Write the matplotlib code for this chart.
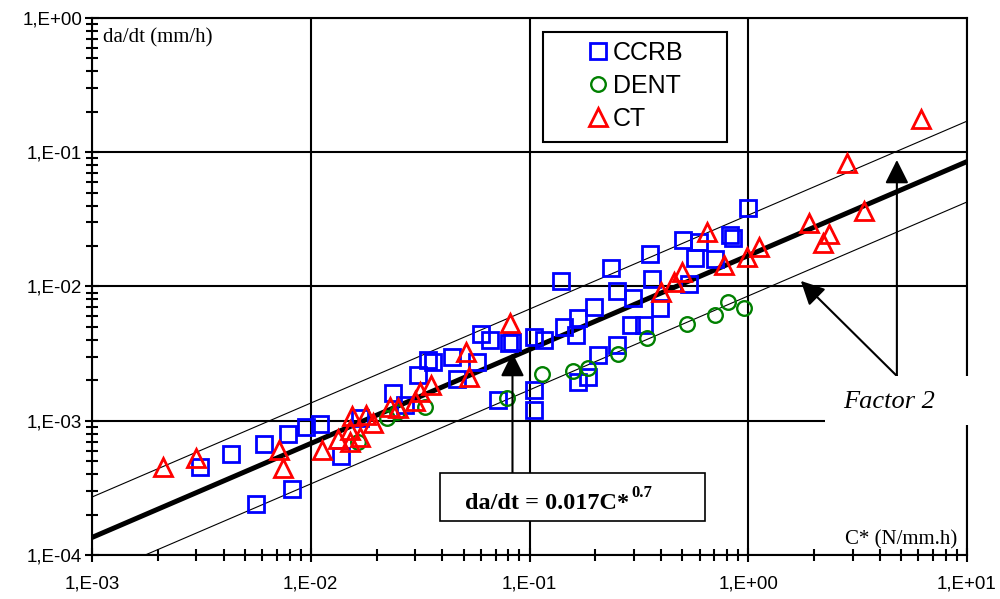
import numpy as np
import matplotlib
matplotlib.use('Agg')
import matplotlib.pyplot as plt
from matplotlib.patches import Rectangle
from matplotlib.ticker import LogLocator, FuncFormatter, NullFormatter

# C* (N/mm.h) and da/dt (mm/h)
ccrb_c = [0.00312, 0.00432, 0.00563, 0.00612, 0.00823, 0.00789, 0.00953, 0.01105,
          0.0138, 0.01684, 0.02385, 0.0271, 0.0310, 0.0345, 0.0364, 0.0444, 0.0468,
          0.0578, 0.0602, 0.0663, 0.0721, 0.0810, 0.0836, 0.1054, 0.1159, 0.1054,
          0.1054, 0.1387, 0.1431, 0.1658, 0.1623, 0.1963, 0.2048, 0.1658, 0.1842,
          0.2348, 0.2502, 0.2961, 0.290, 0.3324, 0.2502, 0.3618, 0.354, 0.3936,
          0.5013, 0.534, 0.569, 0.5936, 0.7026, 0.823, 0.849, 0.995]
ccrb_dadt = [4.52e-4, 5.65e-4, 2.40e-4, 6.71e-4, 3.10e-4, 7.96e-4, 8.98e-4, 9.46e-4,
             5.46e-4, 1.05e-3, 1.61e-3, 1.31e-3, 2.19e-3, 2.84e-3, 2.74e-3, 2.99e-3, 2.05e-3,
             2.74e-3, 4.43e-3, 4.0e-3, 1.43e-3, 3.79e-3, 3.86e-3, 4.21e-3, 4.0e-3, 1.69e-3,
             1.20e-3, 1.10e-2, 4.99e-3, 5.83e-3, 4.35e-3, 7.04e-3, 3.09e-3, 1.94e-3, 2.12e-3,
             1.37e-2, 9.26e-3, 8.21e-3, 5.17e-3, 5.17e-3, 3.67e-3, 1.14e-2, 1.75e-2, 6.92e-3,
             2.22e-2, 1.04e-2, 1.63e-2, 2.15e-2, 1.60e-2, 2.42e-2, 2.30e-2, 3.84e-2]

dent_c = [0.0165, 0.02239, 0.02488, 0.0334, 0.0793, 0.1135, 0.1573, 0.1842,
          0.2528, 0.3431, 0.5231, 0.7026, 0.806, 0.954]
dent_dadt = [6.95e-4, 1.05e-3, 1.16e-3, 1.27e-3, 1.48e-3, 2.23e-3, 2.35e-3, 2.47e-3,
             3.14e-3, 4.13e-3, 5.26e-3, 6.13e-3, 7.66e-3, 6.92e-3]

ct_c = [0.002113, 0.00299, 0.00717, 0.00748, 0.01128, 0.01336, 0.01516, 0.01516,
        0.01549, 0.01795, 0.01932, 0.01684, 0.02311, 0.02515, 0.03008, 0.0317, 0.0356,
        0.0515, 0.0531, 0.0818, 0.3977, 0.456, 0.4962, 0.6458, 0.7725, 0.984, 1.117,
        1.891, 2.193, 2.336, 3.378, 2.824, 6.16]
ct_dadt = [4.52e-4, 5.28e-4, 6.05e-4, 4.45e-4, 6.05e-4, 7.31e-4, 6.95e-4, 8.53e-4,
           1.085e-3, 1.104e-3, 9.62e-4, 7.57e-4, 1.266e-3, 1.245e-3, 1.404e-3, 1.638e-3, 1.846e-3,
           3.25e-3, 2.12e-3, 5.35e-3, 9.10e-3, 1.08e-2, 1.28e-2, 2.55e-2, 1.45e-2, 1.66e-2, 1.97e-2,
           2.97e-2, 2.11e-2, 2.46e-2, 3.65e-2, 8.32e-2, 0.1769]

# da/dt = 0.017 C*^0.7, with a factor 2 band
fit_coef = 0.017
fit_exp = 0.7
factor = 2.0

fig = plt.figure(figsize=(10, 5.99), dpi=100)
ax = fig.add_axes([0.092, 0.0735, 0.875, 0.8965])
ax.set_xscale('log')
ax.set_yscale('log')
ax.set_xlim(1e-3, 1e1)
ax.set_ylim(1e-4, 1)

c_line = np.logspace(-3, 1, 60)
ax.plot(c_line, fit_coef * c_line ** fit_exp, color='k', lw=3.6, zorder=4)
ax.plot(c_line, factor * fit_coef * c_line ** fit_exp, color='k', lw=0.8, zorder=4)
ax.plot(c_line, fit_coef / factor * c_line ** fit_exp, color='k', lw=0.8, zorder=4)

h1, = ax.plot(ccrb_c, ccrb_dadt, ls='none', marker='s', ms=11, mfc='none',
              mec='#0000ff', mew=2.0, label='CCRB', zorder=5)
h2, = ax.plot(dent_c, dent_dadt, ls='none', marker='o', ms=10.5, mfc='none',
              mec='#008000', mew=1.7, label='DENT', zorder=5)
h3, = ax.plot(ct_c, ct_dadt, ls='none', marker='^', ms=12.5, mfc='none',
              mec='#ff0000', mew=2.0, label='CT', zorder=5)

# axes, grid, ticks
ax.grid(which='major', color='k', lw=1.5)
ax.set_axisbelow(True)
for s in ax.spines.values():
    s.set_linewidth(1.5)
ax.xaxis.set_major_locator(LogLocator(base=10, numticks=10))
ax.yaxis.set_major_locator(LogLocator(base=10, numticks=10))
ax.xaxis.set_minor_locator(LogLocator(base=10, subs=np.arange(2, 10), numticks=20))
ax.yaxis.set_minor_locator(LogLocator(base=10, subs=np.arange(2, 10), numticks=20))
fmt = FuncFormatter(lambda v, p: '1,E{:+03d}'.format(int(round(np.log10(v)))))
ax.xaxis.set_major_formatter(fmt)
ax.yaxis.set_major_formatter(fmt)
ax.xaxis.set_minor_formatter(NullFormatter())
ax.yaxis.set_minor_formatter(NullFormatter())
ax.tick_params(which='both', direction='inout', width=1.5, labelsize=13.5)
ax.tick_params(which='major', length=10)
ax.tick_params(which='minor', length=9)
ax.tick_params(axis='x', pad=10)
ax.tick_params(axis='y', pad=2)
for lab in ax.get_xticklabels() + ax.get_yticklabels():
    lab.set_fontfamily('Liberation Sans')

ax.text(0.0126, 0.963, 'da/dt (mm/h)', transform=ax.transAxes, ha='left', va='center',
        family='Liberation Serif', fontsize=15)
ax.text(0.9886, 0.028, 'C* (N/mm.h)', transform=ax.transAxes, ha='right', va='center',
        family='Liberation Serif', fontsize=15)

# legend
ax.add_patch(Rectangle((0.5154, 0.769), 0.2103, 0.205, transform=ax.transAxes,
                       fill=False, ec='k', lw=1.5, zorder=6))
ax.legend(handles=[h1, h2, h3], loc='upper left', bbox_to_anchor=(0.570, 0.958),
          frameon=False, handlelength=0.6, handletextpad=0.3, labelspacing=0.36,
          borderpad=0, borderaxespad=0, prop=dict(family='Liberation Sans', size=18))

# formula box with arrow
ax.add_patch(Rectangle((0.3977, 0.0633), 0.3029, 0.0894, transform=ax.transAxes,
                       fc='white', ec='k', lw=1.2, zorder=8))
eq = ax.text(0.4263, 0.0857, 'da/dt = 0.017C*', transform=ax.transAxes, ha='left',
             va='baseline', family='Liberation Serif', weight='bold', fontsize=17.5, zorder=9)
fig.canvas.draw()
bb = eq.get_window_extent()
fig.text((bb.x1 + 2) / fig.bbox.width, 1 - 497 / 599, '0.7', ha='left', va='baseline',
         family='Liberation Serif', weight='bold', fontsize=12, zorder=9)

arrow = dict(arrowstyle='-|>,head_length=0.4,head_width=0.2', color='k', lw=1.5,
             mutation_scale=36, shrinkA=0, shrinkB=0)
ax.annotate('', xy=(0.0836, 3.2e-3), xytext=(0.0836, 4.08e-4), arrowprops=arrow, zorder=7)

# factor 2 label and arrows
ax.add_patch(Rectangle((0.8377, 0.242), 0.172, 0.091, transform=ax.transAxes,
                       fc='white', ec='none', clip_on=False, zorder=10))
ax.text(0.911, 0.285, 'Factor 2', transform=ax.transAxes, ha='center', va='center',
        family='Liberation Serif', style='italic', fontsize=19, zorder=11)
ax.annotate('', xy=(4.78, 0.0876), xytext=(4.78, 2.154e-3), arrowprops=arrow, zorder=7)
ax.annotate('', xy=(1.739, 0.011), xytext=(4.78, 2.154e-3), arrowprops=arrow, zorder=7)

fig.savefig('out.png', dpi=100)
